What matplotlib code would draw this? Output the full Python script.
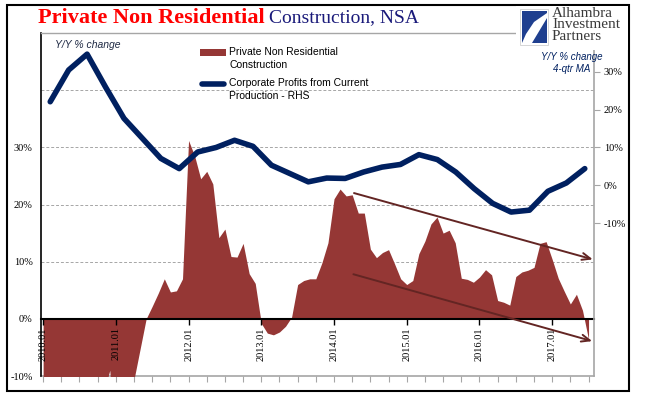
import matplotlib.pyplot as plt
from matplotlib.patches import Rectangle, Polygon
from matplotlib.lines import Line2D
import numpy as np

W, H = 647, 409

# Private non residential construction, Y/Y %, monthly 2010.01 - 2017.07
construction = [-22, -24, -26, -27, -26, -24, -22, -20, -17, -14, -13,
                -9.0,
                -25, -14, -13, -10.6,
                -5.3, 0.0, 2.2, 4.5, 7.0, 4.7, 4.9, 7.0,
                31.2, 28.5, 24.5, 25.8, 23.6, 14.2, 15.7, 10.9, 10.8, 13.2, 7.9, 6.2,
                -0.8, -2.5, -2.8, -2.3, -1.3, 0.3, 6.0, 6.7, 7.0, 7.0, 9.8, 13.3,
                21.0, 22.7, 21.5, 21.7, 18.5, 18.5, 12.2, 10.7, 11.6, 12.1, 9.6, 7.0,
                6.0, 6.7, 11.4, 13.6, 16.6, 17.8, 15.0, 15.5, 13.3, 7.1, 6.9, 6.4,
                7.3, 8.6, 7.7, 3.2, 2.9, 2.4, 7.4, 8.2, 8.5, 9.0, 13.2, 13.5,
                10.4, 7.1, 4.8, 2.6, 4.3, 1.5, -3.6]

# Corporate profits from current production, Y/Y % 4-qtr MA, quarterly
profits = [22.1, 30.5, 34.7, 26.0, 17.7, 12.4, 7.1, 4.4, 8.8, 10.0,
           11.9, 10.3, 5.3, 3.1, 0.9, 1.9, 1.8, 3.5, 4.8, 5.5,
           8.1, 6.8, 3.5, -0.9, -4.8, -7.1, -6.6, -1.6, 0.6, 4.4]

year_labels = ['2010.01', '2011.01', '2012.01', '2013.01',
               '2014.01', '2015.01', '2016.01', '2017.01']
left_ticks = [-10, 0, 10, 20, 30, 40]
left_labels = ['-10%', '0%', '10%', '20%', '30%', '']
right_ticks = [-10, 0, 10, 20, 30]
right_labels = ['-10%', '0%', '10%', '20%', '30%']
legend_labels = ['Private Non Residential\nConstruction',
                 'Corporate Profits from Current\nProduction - RHS']

# trend arrows (month, left-axis %)
arrow_top = ((51.3, 22.0), (90.7, 10.4))
arrow_bottom = ((51.2, 7.8), (90.6, -3.9))

RED = '#953735'
NAVY = '#002060'
ARROW = '#632523'
GRID = '#a6a6a6'
SERIF = 'Liberation Serif'
SANS = 'Liberation Sans'


def px(x0, y0, x1, y1):
    return [x0 / W, 1 - y1 / H, (x1 - x0) / W, (y1 - y0) / H]


def fx(x):
    return x / W


def fy(y):
    return 1 - y / H


fig = plt.figure(figsize=(W / 100, H / 100), dpi=100)

# outer frame
fig.add_artist(Rectangle((fx(7), fy(391)), 622 / W, 386 / H, transform=fig.transFigure,
                         fill=False, ec='black', lw=1.5))

ax = fig.add_axes(px(41, 33, 594, 376))
months = np.arange(len(construction))
ax.fill_between(months, construction, 0, color=RED, lw=0, zorder=1)
ax.set_xlim(-0.35, 90.9)
ax.set_ylim(-10, 50)

ax.set_axisbelow(True)
ax.yaxis.grid(True, ls=(0, (3, 2)), color=GRID, lw=0.7)
ax.set_yticks(left_ticks)
ax.set_yticklabels(left_labels, family=SERIF, fontsize=7.5)
ax.tick_params(axis='y', length=0, pad=6)

ax.xaxis.set_zorder(2.6)
ax.spines['bottom'].set_position(('data', 0))
ax.spines['bottom'].set_linewidth(1.5)
ax.spines['left'].set_linewidth(1.2)
ax.spines['top'].set_color(GRID)
ax.spines['top'].set_linewidth(1)
ax.spines['right'].set_visible(False)
ax.set_xticks(np.arange(0, 85, 12))
ax.set_xticklabels(year_labels, rotation=90, family=SERIF, fontsize=7.5, va='top')
ax.tick_params(axis='x', direction='out', length=4, width=1, pad=2)

sec = ax.secondary_xaxis(0.0)
sec.set_xticks(np.arange(0, 91, 3))
sec.set_xticklabels([])
sec.tick_params(axis='x', direction='out', length=4, color=GRID)
sec.spines['bottom'].set_color(GRID)
sec.spines['bottom'].set_linewidth(1.2)

for (x0, y0), (x1, y1) in (arrow_top, arrow_bottom):
    ax.annotate('', xy=(x1, y1), xytext=(x0, y0),
                arrowprops=dict(arrowstyle='->,head_length=0.6,head_width=0.25',
                                color=ARROW, lw=1.4, shrinkA=0, shrinkB=0))

ax2 = fig.add_axes(px(41, 33, 594, 376))
ax2.patch.set_visible(False)
ax2.plot(np.arange(len(profits)), profits, color=NAVY, lw=4,
         solid_joinstyle='round', solid_capstyle='round')
ax2.set_xlim(-0.5, 29.5)
ax2.set_ylim(-50.5, 40.3)
for s in ('left', 'top', 'bottom'):
    ax2.spines[s].set_visible(False)
ax2.spines['right'].set_color(GRID)
ax2.spines['right'].set_linewidth(1.2)
ax2.set_xticks([])
ax2.yaxis.tick_right()
ax2.set_yticks(right_ticks)
ax2.set_yticklabels(right_labels, family=SERIF, fontsize=7.5)
ax2.tick_params(axis='y', direction='out', length=4, color=GRID, pad=3)

# axis captions
fig.text(fx(55), fy(45), 'Y/Y % change', family=SANS, style='italic',
         fontsize=7.5, color='#1f2a44', va='center')
fig.text(fx(572), fy(52), 'Y/Y % change\n4-qtr MA', family=SANS, style='italic',
         fontsize=7, color=NAVY, va='top', ha='center', linespacing=1.3)

# legend, handle aligned with the first line of each label
fig.add_artist(Rectangle((fx(200), fy(56)), 26 / W, 7 / H, transform=fig.transFigure,
                         fc=RED, ec='none'))
fig.add_artist(Line2D([fx(202), fx(224)], [fy(84), fy(84)], transform=fig.transFigure,
                      color=NAVY, lw=4, solid_capstyle='round'))
for top, lab in zip((47, 78), legend_labels):
    fig.text(fx(229), fy(top), lab, family=SANS, fontsize=7.5, color='black',
             va='top', ha='left', linespacing=1.4)

# title
t1 = fig.text(fx(38), fy(18), 'Private Non Residential', family=SERIF,
              fontweight='bold', fontsize=16, color='#ff0000', va='center')
fig.canvas.draw()
bb = t1.get_window_extent()
fig.text((bb.x1 + 4) / W, fy(18), 'Construction, NSA', family=SERIF,
         fontsize=14, color='#1a1a7a', va='center')

# logo block
fig.add_artist(Rectangle((fx(516), fy(50)), 112 / W, 44 / H, transform=fig.transFigure,
                         fc='white', ec='none', zorder=5))
fig.add_artist(Rectangle((fx(520), fy(45)), 28 / W, 36 / H, transform=fig.transFigure,
                         fc='white', ec='#d0d0d0', lw=0.6, zorder=6))
fig.add_artist(Polygon([(fx(522), fy(11)), (fx(547), fy(11)), (fx(547), fy(13)),
                        (fx(534), fy(22)), (fx(526), fy(34)), (fx(522), fy(43))],
                       closed=True, transform=fig.transFigure, fc='#1f3f8f', ec='none', zorder=7))
fig.add_artist(Polygon([(fx(547), fy(18)), (fx(547), fy(43)), (fx(532), fy(43))],
                       closed=True, transform=fig.transFigure, fc='#1f3f8f', ec='none', zorder=7))
fig.text(fx(552), fy(7), 'Alhambra\nInvestment\nPartners', family=SERIF, fontsize=11,
         color='#3a3a3a', va='top', ha='left', linespacing=0.85, zorder=8)

fig.savefig('out.png', dpi=100)
